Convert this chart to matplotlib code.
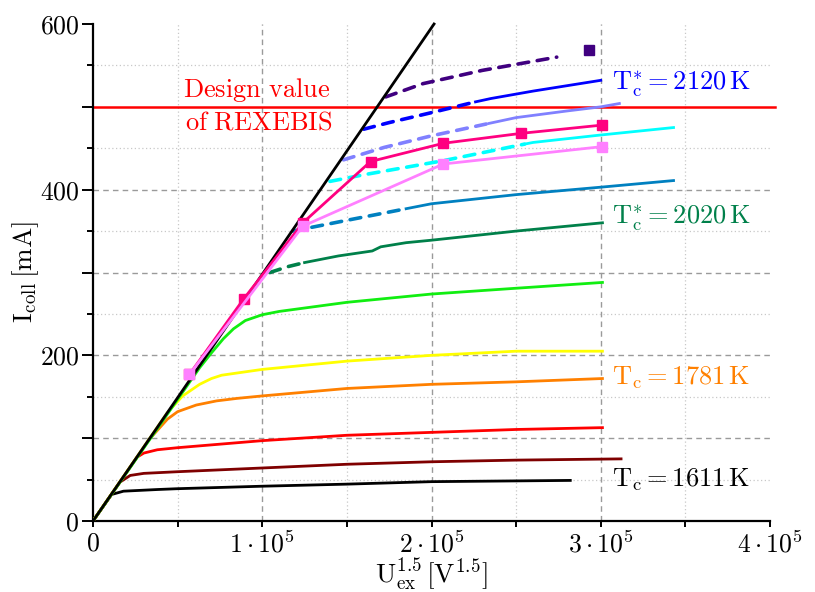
import matplotlib
matplotlib.use("Agg")
import matplotlib.pyplot as plt
from matplotlib.ticker import FixedLocator

plt.rcParams["mathtext.fontset"] = "cm"
plt.rcParams["font.family"] = "serif"
plt.rcParams["font.serif"] = ["cmr10", "DejaVu Serif"]
plt.rcParams["axes.formatter.use_mathtext"] = True

# Space-charge (Child) limit: I = P * U^1.5
child_u = [0, 2.015e5]
child_i = [0, 600]

# Measured collector currents, fully saturated curves (start at origin)
u_1611 = [0, 1.1e4, 1.8e4, 3.8e4, 5.0e4, 1.0e5, 1.5e5, 2.0e5, 2.82e5]
i_1611 = [0, 32, 36, 38, 39, 42, 44.5, 47.5, 49]

u_maroon = [0, 1.6e4, 2.2e4, 3.0e4, 5.0e4, 1.0e5, 1.5e5, 2.0e5, 2.5e5, 3.12e5]
i_maroon = [0, 47, 55, 57.5, 59.5, 64, 68.5, 71.5, 73.5, 75]

u_red = [0, 2.6e4, 3.0e4, 3.8e4, 5.0e4, 1.0e5, 1.5e5, 2.0e5, 2.5e5, 3.01e5]
i_red = [0, 77, 82, 86, 88.5, 97, 103.5, 107, 110.5, 112.7]

u_1781 = [0, 3.3e4, 4.4e4, 5.0e4, 6.1e4, 7.3e4, 8.5e4, 1.0e5, 1.5e5, 2.0e5, 2.5e5, 3.01e5]
i_1781 = [0, 98, 123, 132, 140, 145, 148, 151, 160, 165, 168, 172]

u_yellow = [0, 4.4e4, 5.3e4, 6.3e4, 7.0e4, 7.6e4, 1.0e5, 1.5e5, 2.0e5, 2.5e5, 3.01e5]
i_yellow = [0, 131, 151, 165, 172, 176, 183, 193, 200, 205, 205]

u_green = [0, 6.3e4, 7.0e4, 7.7e4, 8.3e4, 9.0e4, 1.0e5, 1.1e5, 1.5e5, 2.0e5, 2.5e5, 3.01e5]
i_green = [0, 185, 203, 220, 232, 242, 249, 253, 264, 274, 281, 288]

# Curves leaving the Child line (dashed part = transition, solid = measured plateau)
u_2020_d = [1.045e5, 1.15e5, 1.25e5]
i_2020_d = [300, 307, 312]
u_2020_s = [1.25e5, 1.45e5, 1.65e5, 1.7e5, 1.85e5, 2.0e5, 2.5e5, 3.01e5]
i_2020_s = [312, 320, 326, 331, 336, 339, 350, 360]

u_steel_d = [1.18e5, 1.5e5, 1.85e5]
i_steel_d = [350, 363, 377]
u_steel_s = [1.85e5, 2.0e5, 2.5e5, 3.0e5, 3.43e5]
i_steel_s = [377, 383, 394, 403, 411]

u_cyan_d = [1.4e5, 1.6e5, 2.07e5, 2.55e5]
i_cyan_d = [410, 418, 435, 455]
u_cyan_s = [2.55e5, 2.6e5, 3.0e5, 3.43e5]
i_cyan_s = [455, 457, 466, 475]

u_lav_d = [1.48e5, 1.72e5, 2.0e5, 2.34e5]
i_lav_d = [436, 451, 465, 480]
u_lav_s = [2.34e5, 2.5e5, 2.8e5, 3.0e5, 3.11e5]
i_lav_s = [480, 487, 495, 500, 504]

u_2120_d = [1.6e5, 1.75e5, 2.0e5, 2.26e5]
i_2120_d = [473, 481, 493, 506]
u_2120_s = [2.26e5, 2.35e5, 2.6e5, 3.0e5]
i_2120_s = [506, 510, 519, 532]

u_indigo_d = [1.73e5, 1.95e5, 2.3e5, 2.74e5]
i_indigo_d = [512, 528, 544, 560]
u_indigo_pt = [2.93e5]
i_indigo_pt = [569]

# Curves with square markers
u_pink = [5.7e4, 1.24e5, 2.07e5, 3.01e5]
i_pink = [177, 356, 431, 452]
u_deeppink = [5.7e4, 8.9e4, 1.24e5, 1.64e5, 2.07e5, 2.53e5, 3.01e5]
i_deeppink = [177, 268, 360, 434, 456, 468, 478]

design_current = 500

xticks_major = [0, 1e5, 2e5, 3e5, 4e5]
xtick_labels = [r"$0$", r"$1\cdot10^5$", r"$2\cdot10^5$", r"$3\cdot10^5$", r"$4\cdot10^5$"]
yticks_major = [0, 100, 200, 300, 400, 500, 600]
ytick_labels = [r"$0$", "", r"$200$", "", r"$400$", "", r"$600$"]

fig = plt.figure(figsize=(8.15, 5.92), dpi=100)
ax = fig.add_axes([93 / 815, 1 - 521 / 592, (770 - 93) / 815, (521 - 24) / 592])
ax.set_xlim(0, 4e5)
ax.set_ylim(0, 600)

# grid: dashed at major, dotted at minor
for xv in [1e5, 2e5, 3e5]:
    ax.axvline(xv, color="#9a9a9a", lw=1.0, ls=(0, (4, 3)), zorder=1)
for xv in [0.5e5, 1.5e5, 2.5e5, 3.5e5]:
    ax.axvline(xv, color="#c8c8c8", lw=0.9, ls=(0, (1, 2)), zorder=1)
for yv in [100, 200, 300, 400]:
    ax.axhline(yv, color="#9a9a9a", lw=1.0, ls=(0, (4, 3)), zorder=1)
for yv in [50, 150, 250, 350, 450, 550]:
    ax.axhline(yv, color="#c8c8c8", lw=0.9, ls=(0, (1, 2)), zorder=1)

ax.plot([0, 4.03e5], [design_current, design_current], color="#ff0000", lw=1.8,
        zorder=2, clip_on=False)

lw = 2.0
dash = (0, (3.0, 2.4))
ax.plot(u_1611, i_1611, color="#000000", lw=lw, zorder=3)
ax.plot(u_maroon, i_maroon, color="#7f0000", lw=lw, zorder=3)
ax.plot(u_red, i_red, color="#ff0000", lw=lw, zorder=3)
ax.plot(u_1781, i_1781, color="#ff8000", lw=lw, zorder=3)
ax.plot(u_yellow, i_yellow, color="#ffff00", lw=lw, zorder=3)
ax.plot(u_green, i_green, color="#11ee11", lw=lw, zorder=3)

for (ud, idd, us, is_, c) in [
    (u_2020_d, i_2020_d, u_2020_s, i_2020_s, "#00804a"),
    (u_steel_d, i_steel_d, u_steel_s, i_steel_s, "#0080c0"),
    (u_cyan_d, i_cyan_d, u_cyan_s, i_cyan_s, "#00ffff"),
    (u_lav_d, i_lav_d, u_lav_s, i_lav_s, "#8080ff"),
    (u_2120_d, i_2120_d, u_2120_s, i_2120_s, "#0000ff"),
]:
    ax.plot(ud, idd, color=c, lw=2.6, ls=dash, zorder=3, dash_capstyle="round")
    ax.plot(us, is_, color=c, lw=lw, zorder=3)

ax.plot(u_indigo_d, i_indigo_d, color="#400080", lw=2.6, ls=dash, zorder=3,
        dash_capstyle="round")
ax.plot(u_indigo_pt, i_indigo_pt, ls="none", marker="s", ms=7, color="#400080", zorder=5)

ax.plot(u_deeppink, i_deeppink, color="#ff0080", lw=lw, marker="s", ms=7, zorder=4)
ax.plot(u_pink, i_pink, color="#ff80ff", lw=lw, marker="s", ms=7, zorder=4)

ax.plot(child_u, child_i, color="#000000", lw=lw, zorder=3.5, clip_on=False)

# annotations
fs = 19
ax.text(3.066e5, 520.5, r"$\mathrm{T}_\mathrm{c}^{*}=2120\,\mathrm{K}$", color="#0000ff",
        fontsize=fs, va="baseline", ha="left")
ax.text(3.066e5, 358.5, r"$\mathrm{T}_\mathrm{c}^{*}=2020\,\mathrm{K}$", color="#00804a",
        fontsize=fs, va="baseline", ha="left")
ax.text(3.066e5, 165, r"$\mathrm{T}_\mathrm{c}=1781\,\mathrm{K}$", color="#ff8000",
        fontsize=fs, va="baseline", ha="left")
ax.text(3.066e5, 41.3, r"$\mathrm{T}_\mathrm{c}=1611\,\mathrm{K}$", color="#000000",
        fontsize=fs, va="baseline", ha="left")
ax.text(5.33e4, 511.5, r"$\mathrm{Design\ value}$", color="#ff0000", fontsize=19,
        va="baseline", ha="left")
ax.text(5.45e4, 473, r"$\mathrm{of\ REXEBIS}$", color="#ff0000", fontsize=19,
        va="baseline", ha="left")

# axes styling: left and bottom axis lines only
for s in ["top", "right"]:
    ax.spines[s].set_visible(False)
for s in ["left", "bottom"]:
    ax.spines[s].set_linewidth(1.6)

ax.set_xticks(xticks_major)
ax.set_xticklabels(xtick_labels)
ax.xaxis.set_minor_locator(FixedLocator([0.5e5, 1.5e5, 2.5e5, 3.5e5]))
ax.set_yticks(yticks_major)
ax.set_yticklabels(ytick_labels)
ax.yaxis.set_minor_locator(FixedLocator([50, 150, 250, 350, 450, 550]))

ax.tick_params(which="both", direction="out", width=1.4, labelsize=18.5)
ax.tick_params(axis="x", which="both", length=4.5, pad=3)
ax.tick_params(axis="y", which="major", length=8, pad=2)
ax.tick_params(axis="y", which="minor", length=4)

ax.set_xlabel(r"$\mathrm{U}_{\mathrm{ex}}^{1.5}\,[\mathrm{V}^{1.5}]$", fontsize=19.5, labelpad=-1)
ax.set_ylabel(r"$\mathrm{I}_{\mathrm{coll}}\,[\mathrm{mA}]$", fontsize=19.5, labelpad=-1)

fig.savefig("out.png", dpi=100)
